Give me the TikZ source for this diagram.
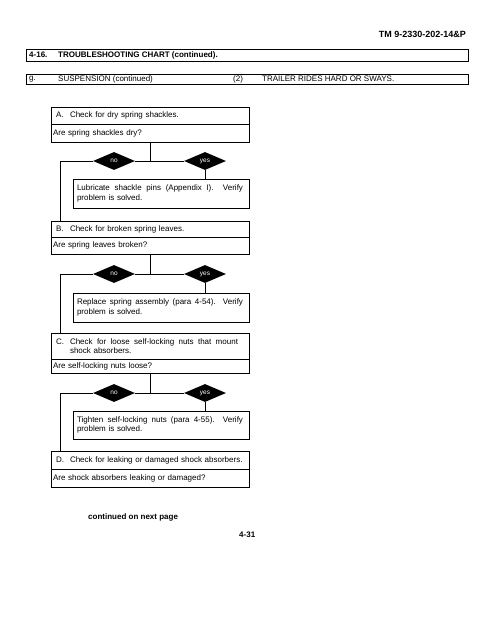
\documentclass[tikz,border=0pt]{standalone}
\usepackage{fontspec}
\setmainfont{Liberation Sans}
\usetikzlibrary{shapes.geometric}
\newcommand{\fillline}[2]{\hbox to #1{#2}}
\begin{document}
\begin{tikzpicture}[x=1pt,y=-1pt,
  every node/.style={font=\fontsize{8}{9.6}\selectfont},
  hdrbox/.style={draw, line width=1pt, minimum width=442pt, inner sep=0pt},
  sbox/.style={draw, line width=0.9pt, minimum width=198pt, inner xsep=5pt, inner ysep=0pt, text width=188pt, align=left},
  qbox/.style={draw, line width=0.9pt, minimum width=198pt, inner xsep=2pt, inner ysep=0pt, text width=194pt, align=left},
  abox/.style={draw, line width=0.9pt, minimum width=176pt, inner xsep=4pt, inner ysep=0pt, text width=168pt, align=left},
  dec/.style={diamond, fill=black, text=white, minimum width=42pt, minimum height=18pt, inner sep=0pt, font=\fontsize{6.5}{7}\selectfont},
  conn/.style={line width=0.8pt},
  lbl/.style={anchor=west, inner sep=0pt},
  bold/.style={font=\fontsize{8}{9.6}\selectfont\bfseries}]
\useasboundingbox (0,0) rectangle (495,640);
\fill[white] (0,0) rectangle (495,640);

% header
\node[anchor=east, inner sep=0pt, font=\fontsize{9}{10}\selectfont\bfseries] (tm) at (466,34) {TM 9-2330-202-14\&P};
\node[hdrbox, minimum height=12pt] (h1) at (247,55) {};
\node[lbl, bold] (h1a) at (29,55) {4-16.};
\node[lbl, bold] (h1b) at (58,55) {TROUBLESHOOTING CHART (continued).};
\node[hdrbox, minimum height=10pt] (h2) at (247,79) {};
\node[lbl] (h2a) at (29,79) {g.};
\node[lbl] (h2b) at (58,79) {SUSPENSION (continued)};
\node[lbl] (h2c) at (233,79) {(2)};
\node[lbl] (h2d) at (262,79) {TRAILER RIDES HARD OR SWAYS.};

% step A
\node[sbox, minimum height=17pt] (A1) at (150,115.5) {\makebox[14pt][l]{A.}Check for dry spring shackles.};
\node[qbox, minimum height=18pt] (A2) at (150,133) {Are spring shackles dry?};
\node[dec] (noA) at (114,161) {no};
\node[dec] (yesA) at (205,161) {yes};
\node[abox, minimum height=29pt] (LA) at (161,193.5) {\fillline{166pt}{Lubricate\hfil shackle\hfil pins\hfil (Appendix\hfil I).\hfil\hfil Verify}\\problem is solved.};
\coordinate (cA) at (60,161);

% step B
\node[sbox, minimum height=16pt] (B1) at (150,229) {\makebox[14pt][l]{B.}Check for broken spring leaves.};
\node[qbox, minimum height=17pt] (B2) at (150,245.5) {Are spring leaves broken?};
\node[dec] (noB) at (114,274) {no};
\node[dec] (yesB) at (205,274) {yes};
\node[abox, minimum height=29pt] (LB) at (161,307.5) {\fillline{166pt}{Replace\hfil spring\hfil assembly\hfil (para\hfil 4-54).\hfil\hfil Verify}\\problem is solved.};
\coordinate (cB) at (60,274);

% step C
\node[sbox, minimum height=26pt] (C1) at (150,346) {\fillline{182pt}{\makebox[14pt][l]{C.}Check\hfil for\hfil loose\hfil self-locking\hfil nuts\hfil that\hfil mount}\\\hspace*{14pt}shock absorbers.};
\node[qbox, minimum height=14pt] (C2) at (150,366) {Are self-locking nuts loose?};
\node[dec] (noC) at (114,393) {no};
\node[dec] (yesC) at (205,393) {yes};
\node[abox, minimum height=28pt] (LC) at (161,425) {\fillline{166pt}{Tighten\hfil self-locking\hfil nuts\hfil (para\hfil 4-55).\hfil\hfil Verify}\\problem is solved.};
\coordinate (cC) at (60,393);

% step D
\node[sbox, minimum height=18pt] (D1) at (150,460) {\makebox[14pt][l]{D.}Check for leaking or damaged shock absorbers.};
\node[qbox, minimum height=18pt] (D2) at (150,478) {Are shock absorbers leaking or damaged?};

% connectors
\foreach \s/\n/\y/\c/\act/\next in {A/noA/yesA/cA/LA/B1, B/noB/yesB/cB/LB/C1, C/noC/yesC/cC/LC/D1}{
  \draw[conn] (\s2.south) -- (\s2.south |- \n.east);
  \draw[conn] (\c) -- (\n.west);
  \draw[conn] (\n.east) -- (\y.west);
  \draw[conn] (\y.south) -- (\y.south |- \act.north);
  \draw[conn] (\c) -- (\c |- \next.north);
}

% footer
\node[lbl, bold] (cont) at (88,517) {continued on next page};
\node[lbl, bold] (pg) at (239,535) {4-31};
\end{tikzpicture}
\end{document}
